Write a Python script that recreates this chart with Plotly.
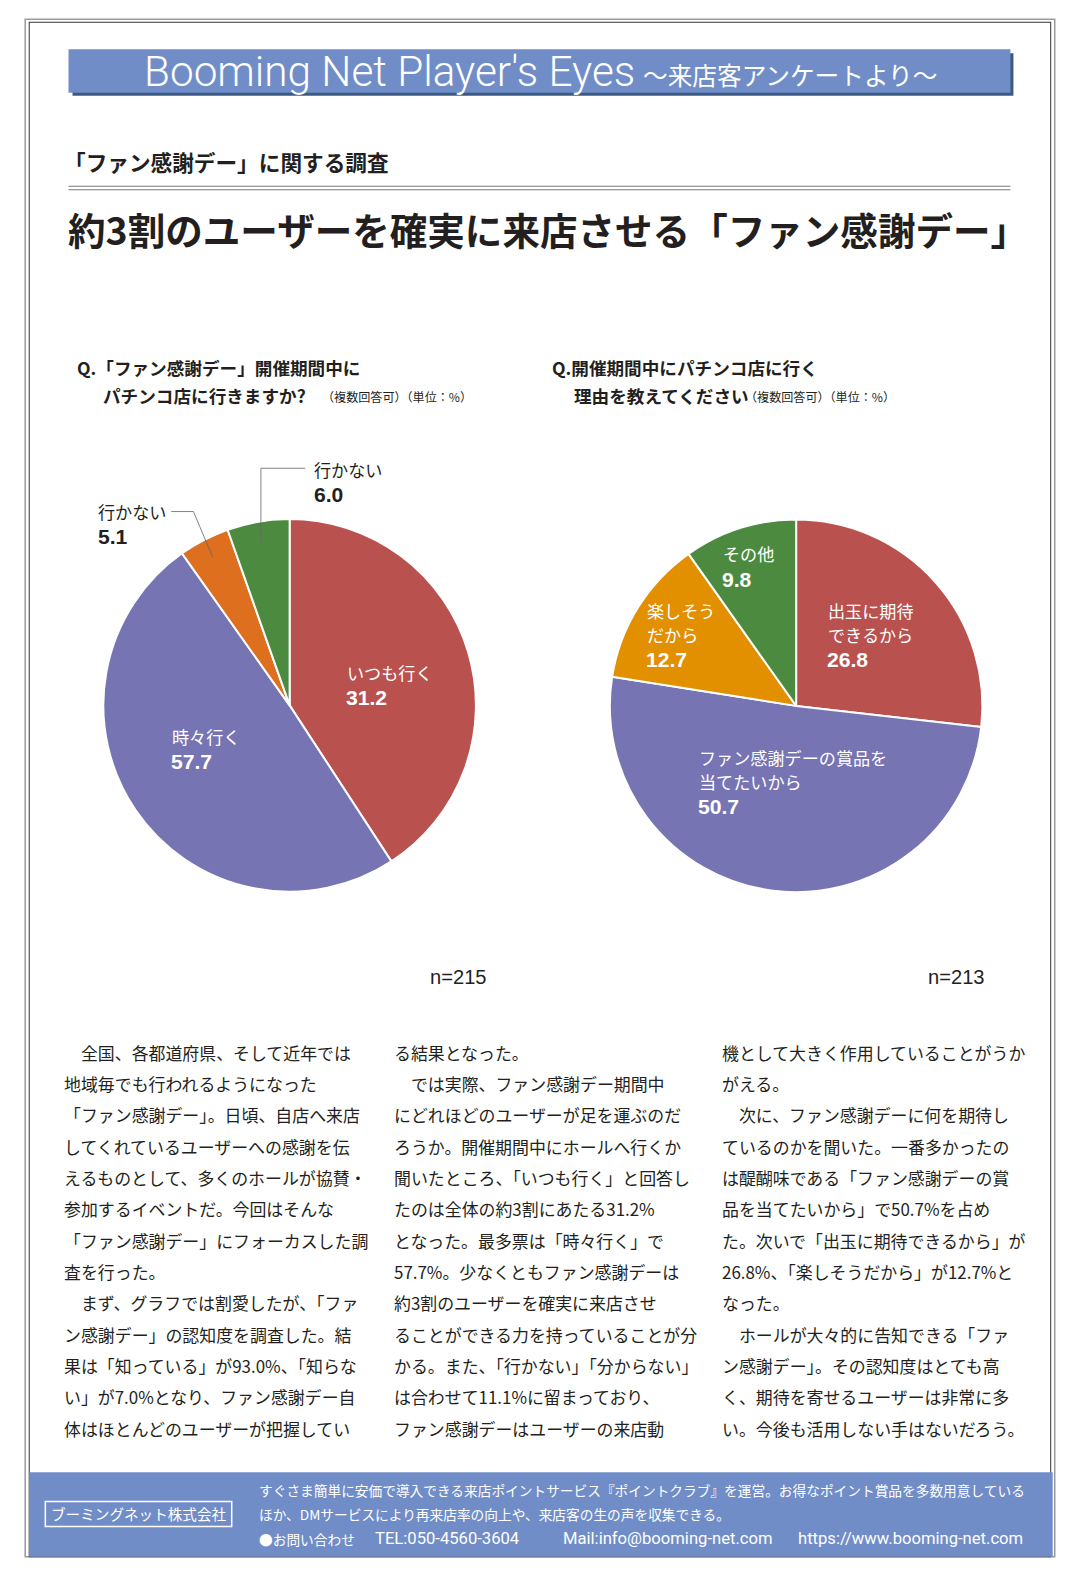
import plotly.graph_objects as go

W, H = 1084, 1579          # reference page size (all positions below are in these pixels)
K = 1.007                  # the capture shrinks the page by ~0.7%, so the figure is drawn 0.7% larger
JP = "Noto Sans CJK JP"

# ---------------- data ----------------
left_categories = ["いつも行く", "時々行く", "行かない", "行かない"]
left_printed = ["31.2", "57.7", "5.1", "6.0"]
# slice shares as drawn in the reference (its slices are not drawn to the printed numbers)
left_drawn_share = [40.8, 49.4, 4.4, 5.4]
left_colors = ["#b9514f", "#7774b3", "#dd6f1f", "#4c8b3f"]
left_n = "n=215"

right_categories = ["出玉に期待<br>できるから", "ファン感謝デーの賞品を<br>当てたいから", "楽しそう<br>だから", "その他"]
right_values = [26.8, 50.7, 12.7, 9.8]
right_colors = ["#b9514f", "#7774b3", "#e28f00", "#4c8b3f"]
right_n = "n=213"

header_main = "Booming Net Player's Eyes"
header_sub = "〜来店客アンケートより〜"
subtitle = "「ファン感謝デー」に関する調査"
title = "約3割のユーザーを確実に来店させる「ファン感謝デー」"
q_left = ["Q.「ファン感謝デー」開催期間中に", "パチンコ店に行きますか?"]
q_right = ["Q.開催期間中にパチンコ店に行く", "理由を教えてください"]
q_note = "（複数回答可）（単位：%）"

col1 = [
    "　全国、各都道府県、そして近年では",
    "地域毎でも行われるようになった",
    "「ファン感謝デー」。日頃、自店へ来店",
    "してくれているユーザーへの感謝を伝",
    "えるものとして、多くのホールが協賛・",
    "参加するイベントだ。今回はそんな",
    "「ファン感謝デー」にフォーカスした調",
    "査を行った。",
    "　まず、グラフでは割愛したが、「ファ",
    "ン感謝デー」の認知度を調査した。結",
    "果は「知っている」が93.0%、「知らな",
    "い」が7.0%となり、ファン感謝デー自",
    "体はほとんどのユーザーが把握してい",
]
col2 = [
    "る結果となった。",
    "　では実際、ファン感謝デー期間中",
    "にどれほどのユーザーが足を運ぶのだ",
    "ろうか。開催期間中にホールへ行くか",
    "聞いたところ、「いつも行く」と回答し",
    "たのは全体の約3割にあたる31.2%",
    "となった。最多票は「時々行く」で",
    "57.7%。少なくともファン感謝デーは",
    "約3割のユーザーを確実に来店させ",
    "ることができる力を持っていることが分",
    "かる。また、「行かない」「分からない」",
    "は合わせて11.1%に留まっており、",
    "ファン感謝デーはユーザーの来店動",
]
col3 = [
    "機として大きく作用していることがうか",
    "がえる。",
    "　次に、ファン感謝デーに何を期待し",
    "ているのかを聞いた。一番多かったの",
    "は醍醐味である「ファン感謝デーの賞",
    "品を当てたいから」で50.7%を占め",
    "た。次いで「出玉に期待できるから」が",
    "26.8%、「楽しそうだから」が12.7%と",
    "なった。",
    "　ホールが大々的に告知できる「ファ",
    "ン感謝デー」。その認知度はとても高",
    "く、期待を寄せるユーザーは非常に多",
    "い。今後も活用しない手はないだろう。",
]

footer_company = "ブーミングネット株式会社"
footer_lines = [
    "すぐさま簡単に安価で導入できる来店ポイントサービス『ポイントクラブ』を運営。お得なポイント賞品を多数用意している",
    "ほか、DMサービスにより再来店率の向上や、来店客の生の声を収集できる。",
]
footer_contact = ["●お問い合わせ", "TEL:050-4560-3604", "Mail:info@booming-net.com", "https://www.booming-net.com"]


# ---------------- helpers ----------------
def X(px):
    return px / W


def Y(py):
    return 1 - py / H


annotations = []
shapes = []


def txt(x, y, text, size, color="#231f20", family=JP, anchor="left", weight=None):
    f = dict(size=size * K, color=color, family=family)
    if weight:
        f["weight"] = weight
    annotations.append(dict(x=X(x), y=Y(y), xref="paper", yref="paper", text=text,
                            showarrow=False, xanchor=anchor, yanchor="middle",
                            font=f, align="left"))


def rect(x0, y0, x1, y1, fill=None, line=None, lw=0):
    shapes.append(dict(type="rect", xref="paper", yref="paper",
                       x0=X(x0), x1=X(x1), y0=Y(y1), y1=Y(y0),
                       fillcolor=fill if fill else "rgba(0,0,0,0)",
                       line=dict(color=line if line else "rgba(0,0,0,0)", width=lw * K),
                       layer="below"))


def seg(x0, y0, x1, y1, color="#555", lw=1):
    shapes.append(dict(type="line", xref="paper", yref="paper",
                       x0=X(x0), x1=X(x1), y0=Y(y0), y1=Y(y1),
                       line=dict(color=color, width=lw * K), layer="above"))


fig = go.Figure()

# ---------------- pies ----------------
R = 185
lc = (287.5, 700.5)
rc = (790.3, 701)
fig.add_trace(go.Pie(
    labels=[f"{c} {v}" for c, v in zip(left_categories, left_printed)],
    values=left_drawn_share, sort=False, direction="clockwise", rotation=0,
    textinfo="none", hoverinfo="label", showlegend=False,
    marker=dict(colors=left_colors, line=dict(color="white", width=2)),
    domain=dict(x=[X(lc[0] - R), X(lc[0] + R)], y=[Y(lc[1] + R), Y(lc[1] - R)]),
))
fig.add_trace(go.Pie(
    labels=[c.replace("<br>", "") for c in right_categories],
    values=right_values, sort=False, direction="clockwise", rotation=0,
    textinfo="none", hoverinfo="label+value", showlegend=False,
    marker=dict(colors=right_colors, line=dict(color="white", width=2)),
    domain=dict(x=[X(rc[0] - R), X(rc[0] + R)], y=[Y(rc[1] + R), Y(rc[1] - R)]),
))

# ---------------- frame ----------------
rect(25, 19, 1047, 1546, line="#9a9a9a", lw=1.5)
rect(29, 22, 1043, 1546, line="#333333", lw=1)

# header bar with shadow
rect(72, 53, 1006, 95, fill="#3b5a82")
rect(68, 49, 1003, 92, fill="#718dc7")
txt(387, 71, header_main, 42, color="white", family="Roboto", anchor="center", weight=300)
txt(636, 73, header_sub, 24.5, color="white", anchor="left")

# subtitle + double rule
txt(62, 160, f"<b>{subtitle}</b>", 21.5)
seg(68, 185, 1003, 185, color="#777", lw=1)
seg(68, 188.5, 1003, 188.5, color="#777", lw=1)

# main title
txt(66, 227, f"<b>{title}</b>", 37.3)

# questions
txt(74, 365, f"<b>{q_left[0]}</b>", 17.5)
txt(100, 393, f"<b>{q_left[1]}</b>", 17.5)
txt(318, 394, q_note, 12)
txt(546, 365, f"<b>{q_right[0]}</b>", 17.5)
txt(568, 393, f"<b>{q_right[1]}</b>", 17.5)
txt(738, 394, q_note, 12)

# left pie labels
txt(342, 668, left_categories[0], 17, color="white")
txt(341, 693, f"<b>{left_printed[0]}</b>", 21, color="white", family="Liberation Sans")
txt(169, 731, left_categories[1], 17, color="white")
txt(168, 756, f"<b>{left_printed[1]}</b>", 21, color="white", family="Liberation Sans")
txt(95, 508, left_categories[2], 17)
txt(95, 533, f"<b>{left_printed[2]}</b>", 21, family="Liberation Sans")
txt(310, 466, left_categories[3], 17)
txt(310, 491, f"<b>{left_printed[3]}</b>", 21, family="Liberation Sans")
# leader lines
seg(259, 465, 303, 465, color="#666", lw=0.8)
seg(259, 465, 259, 539, color="#666", lw=0.8)
seg(170, 508, 192, 508, color="#666", lw=0.8)
seg(192, 508, 211, 553, color="#666", lw=0.8)

# right pie labels
r_pos = [(820, 606), (692, 752), (640, 606), (716, 550)]
for (x, y), cat, val in zip(r_pos, right_categories, right_values):
    parts = cat.split("<br>")
    for i, p in enumerate(parts):
        txt(x, y + i * 24, p, 17, color="white")
    txt(x - 1, y + len(parts) * 24 + 1, f"<b>{val}</b>", 21, color="white", family="Liberation Sans")

# n labels
txt(425, 970, left_n, 20, family="Liberation Sans")
txt(919, 970, right_n, 20, family="Liberation Sans")

# body text
for cx, col in [(62, col1), (389, col2), (715, col3)]:
    for i, line in enumerate(col):
        txt(cx, 1045 + i * 31.1, line, 16.8, color="#231f20")

# footer
rect(29, 1462, 1045, 1546, fill="#718dc7")
rect(45, 1491, 230, 1516, line="white", lw=1.5)
txt(137.5, 1503.5, footer_company, 14.5, color="white", anchor="center")
txt(255, 1480, footer_lines[0], 13.6, color="white")
txt(255, 1504, footer_lines[1], 13.6, color="white")
txt(255, 1528, footer_contact[0], 13.6, color="white")
txt(370, 1528, footer_contact[1], 16.5, color="white", family="Roboto")
txt(557, 1528, footer_contact[2], 16.5, color="white", family="Roboto")
txt(790, 1528, footer_contact[3], 16.5, color="white", family="Roboto")

FW, FH = round(W * K), round(H * K)
fig.update_layout(
    width=FW, height=FH,
    margin=dict(l=0, r=0, t=0, b=0),
    paper_bgcolor="white", plot_bgcolor="white",
    annotations=annotations, shapes=shapes,
    font=dict(family=JP),
)

page_fix = (
    "var h=document.documentElement,b=document.body;"
    f"h.style.margin='0';h.style.padding='0';h.style.height='{FH}px';h.style.overflow='hidden';"
    f"b.style.margin='0';b.style.padding='0';b.style.height='{FH}px';b.style.width='{FW}px';b.style.overflow='hidden';"
)
fig.write_html("out.html", config={"displayModeBar": False}, post_script=page_fix)
